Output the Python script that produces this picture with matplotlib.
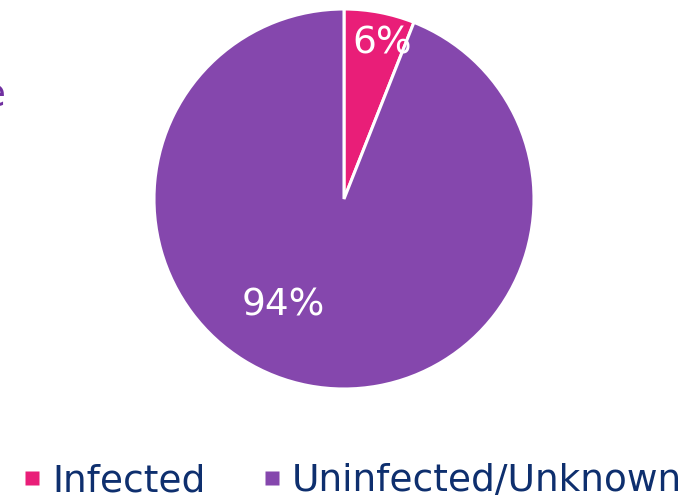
import matplotlib
matplotlib.use("Agg")
import matplotlib.pyplot as plt
from matplotlib.lines import Line2D

labels = ["Infected", "Uninfected/Unknown"]
shares = [6, 94]
colors = ["#E91E78", "#8547AD"]
LEGEND_TEXT = "#0E2F6E"

fig = plt.figure(figsize=(6.87, 4.99), dpi=100)
ax = fig.add_axes([154 / 687, 110 / 499, 380 / 687, 380 / 499])

wedges, texts, autotexts = ax.pie(
    shares,
    colors=colors,
    startangle=90,
    counterclock=False,
    autopct="%d%%",
    pctdistance=0.83,
    wedgeprops=dict(edgecolor="white", linewidth=2.2),
    textprops=dict(color="white", fontsize=27),
)
# labels nudged to where the original has them
autotexts[0].set_position((0.2, 0.82))
autotexts[1].set_position((-0.32, -0.56))
ax.set_xlim(-1.0, 1.0)
ax.set_ylim(-1.0, 1.0)
ax.set_aspect("equal")

# cut-off text at the left edge of the source slide
fig.text(-0.026, 0.808, "e", color="#7030A0", fontsize=28, va="center")

handles = [Line2D([], [], marker="s", linestyle="none", markersize=10.5,
                  markerfacecolor=c, markeredgecolor="none") for c in colors]
fig.legend(
    handles, labels,
    loc="center left", bbox_to_anchor=(24 / 687, 18 / 499),
    ncol=2, frameon=False, borderpad=0,
    fontsize=27, labelcolor=LEGEND_TEXT,
    handlelength=0.45, handletextpad=0.3,
    columnspacing=1.55, borderaxespad=0,
)

fig.savefig("out.png", dpi=100)
